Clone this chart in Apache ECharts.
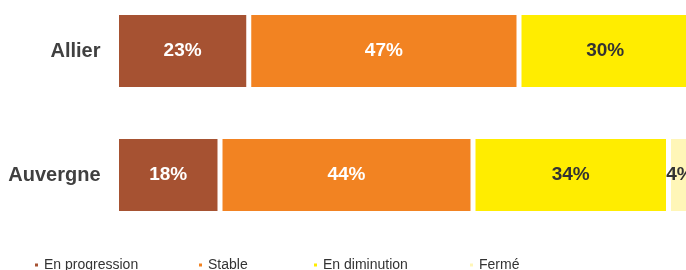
<!DOCTYPE html>
<html>
<head>
<meta charset="utf-8">
<script src="https://cdn.jsdelivr.net/npm/echarts@6/dist/echarts.min.js"></script>
<style>
  html, body { margin: 0; padding: 0; background: #fff; }
  #chart { width: 686px; height: 270px; }
</style>
</head>
<body>
<div id="chart"></div>
<script>
const categories = ['Allier', 'Auvergne'];
const seriesNames = ['En progression', 'Stable', 'En diminution', 'Fermé'];
const progression = [23, 18];
const stable = [47, 44];
const diminution = [30, 34];
const ferme = [0, 4];

const colors = ['#a65232', '#f28322', '#ffed00', '#fff6b8'];
const labelColors = ['#fff', '#fff', '#333', '#333'];
const values = [progression, stable, diminution, ferme];
// position du carré de chaque légende (moins le padding de 5)
const legendLeft = [28, 192, 307, 463];

const myChart = echarts.init(document.getElementById('chart'));
const option = {
  animation: false,
  color: colors,
  grid: { left: 116.5, right: -5.5, top: -11, height: 248, outerBoundsMode: 'none', containLabel: false },
  xAxis: { type: 'value', min: 0, max: 100, show: false },
  yAxis: {
    type: 'category',
    data: categories,
    inverse: true,
    axisLine: { show: false },
    axisTick: { show: false },
    axisLabel: {
      margin: 16,
      color: '#404040',
      fontSize: 20,
      fontWeight: 'bold',
      fontFamily: 'Liberation Sans, Arial, sans-serif'
    }
  },
  legend: seriesNames.map((name, i) => ({
    data: [name],
    left: legendLeft[i],
    top: 253,
    icon: 'rect',
    itemWidth: 5,
    itemHeight: 5,
    textStyle: { color: '#333', fontSize: 14, fontFamily: 'Liberation Sans, Arial, sans-serif' }
  })),
  series: seriesNames.map((name, i) => ({
    name: name,
    type: 'bar',
    stack: 'total',
    barWidth: 77,
    itemStyle: { borderColor: '#fff', borderWidth: 2.5 },
    label: {
      show: true,
      position: 'inside',
      color: labelColors[i],
      fontSize: 19,
      fontWeight: 'bold',
      fontFamily: 'Liberation Sans, Arial, sans-serif',
      formatter: p => p.value > 0 ? Math.round(p.value) + '%' : ''
    },
    data: values[i]
  }))
};
myChart.setOption(option);
</script>
</body>
</html>
